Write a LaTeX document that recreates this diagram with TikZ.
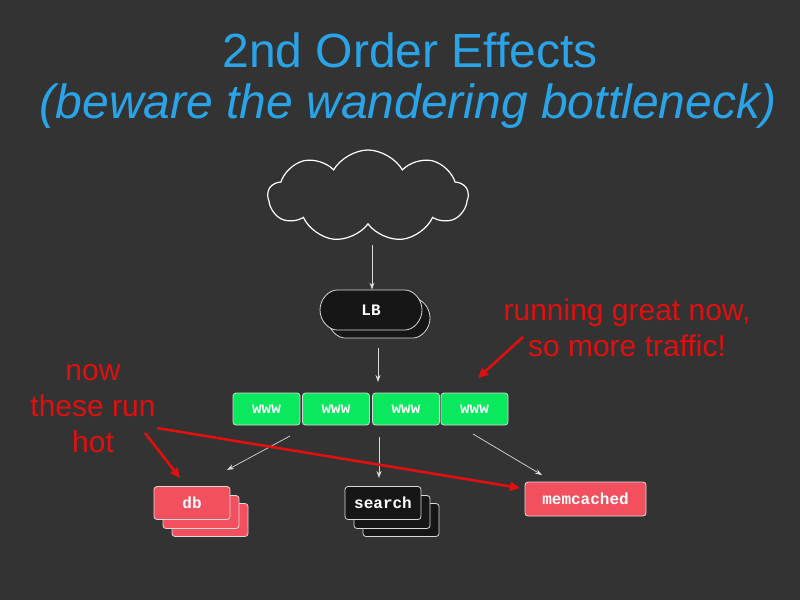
\documentclass[tikz,border=0pt]{standalone}
\usepackage{fontspec}
\setmainfont{Liberation Sans}
\newfontfamily\boxfont{Liberation Mono}
\usetikzlibrary{shapes.symbols,shapes.misc,arrows.meta}
\definecolor{bg}{HTML}{333333}
\definecolor{ttl}{HTML}{2AA4E8}
\definecolor{grn}{HTML}{0AE85E}
\definecolor{pnk}{HTML}{F2505E}
\definecolor{rd}{HTML}{E01010}
\definecolor{dk}{HTML}{161616}
\begin{document}
\begin{tikzpicture}[x=1pt,y=-1pt,
  box/.style={draw=white!85!black,line width=0.8pt,rounded corners=3pt,inner sep=0pt,font=\boxfont\bfseries\fontsize{16}{16}\selectfont,text=white},
  flow/.style={draw=white!85!black,line width=0.7pt,-{Stealth[length=7pt,width=5pt]}},
  red/.style={draw=rd,line width=2.6pt,-{Triangle[length=10pt,width=9pt]}},
  note/.style={text=rd,font=\fontsize{30}{36}\selectfont,align=center}]
\fill[bg] (0,0) rectangle (800,600);
\useasboundingbox (0,0) rectangle (800,600);
\node[text=ttl,font=\fontsize{48}{48}\selectfont] (t1) at (410,50) {2nd Order Effects};
\node[text=ttl,font=\itshape\fontsize{48}{48}\selectfont] (t2) at (408,106) {(beware the wandering bottleneck)};
\node[cloud,cloud puffs=9,cloud puff arc=120,aspect=2.3,draw=white,line width=1.2pt,fill=bg,minimum width=200pt,minimum height=92pt] (cl) at (368,196) {};
% LB
\node[box,rounded rectangle,fill=dk,minimum width=102pt,minimum height=40pt] (lb2) at (379,318) {};
\node[box,rounded rectangle,fill=dk,minimum width=102pt,minimum height=40pt] (lb) at (371,310) {LB};
% www
\foreach \i/\x in {1/266.5,2/336,3/406,4/474.5}{
  \node[box,fill=grn,minimum width=67pt,minimum height=32pt] (w\i) at (\x,409) {www};}
% db
\node[box,fill=pnk,minimum width=76pt,minimum height=33pt] (db3) at (210,520) {};
\node[box,fill=pnk,minimum width=76pt,minimum height=33pt] (db2) at (201,512) {};
\node[box,fill=pnk,minimum width=76pt,minimum height=33pt] (db) at (192,503) {db};
% search
\node[box,fill=dk,minimum width=76pt,minimum height=33pt] (s3) at (401,520) {};
\node[box,fill=dk,minimum width=76pt,minimum height=33pt] (s2) at (392,512) {};
\node[box,fill=dk,minimum width=76pt,minimum height=33pt] (s) at (383,503) {search};
% memcached
\node[box,fill=pnk,minimum width=121pt,minimum height=34pt] (mc) at (585.5,499) {memcached};
% flows
\coordinate (c1) at (372,245);
\draw[flow] (c1) -- (lb.north -| c1);
\coordinate (a1) at (378,348); \coordinate (a2) at (378,382);
\draw[flow] (a1) -- (a2);
\coordinate (b1) at (290,436); \coordinate (b2) at (227,470);
\draw[flow] (b1) -- (b2);
\coordinate (d1) at (379,437); \coordinate (d2) at (379,478);
\draw[flow] (d1) -- (d2);
\coordinate (e1) at (473,434); \coordinate (e2) at (542,475);
\draw[flow] (e1) -- (e2);
% notes
\node[note] (n1) at (93,409) {now\\these run\\hot};
\node[note] (n2) at (627,328) {running great now,\\so more traffic!};
\coordinate (r1) at (145,433); \coordinate (r2) at (180,478);
\draw[red] (r1) -- (r2);
\coordinate (r3) at (157,428); \coordinate (r4) at (520,488);
\draw[red] (r3) -- (r4);
\coordinate (r5) at (523,337); \coordinate (r6) at (478,378);
\draw[red] (r5) -- (r6);
\end{tikzpicture}
\end{document}
